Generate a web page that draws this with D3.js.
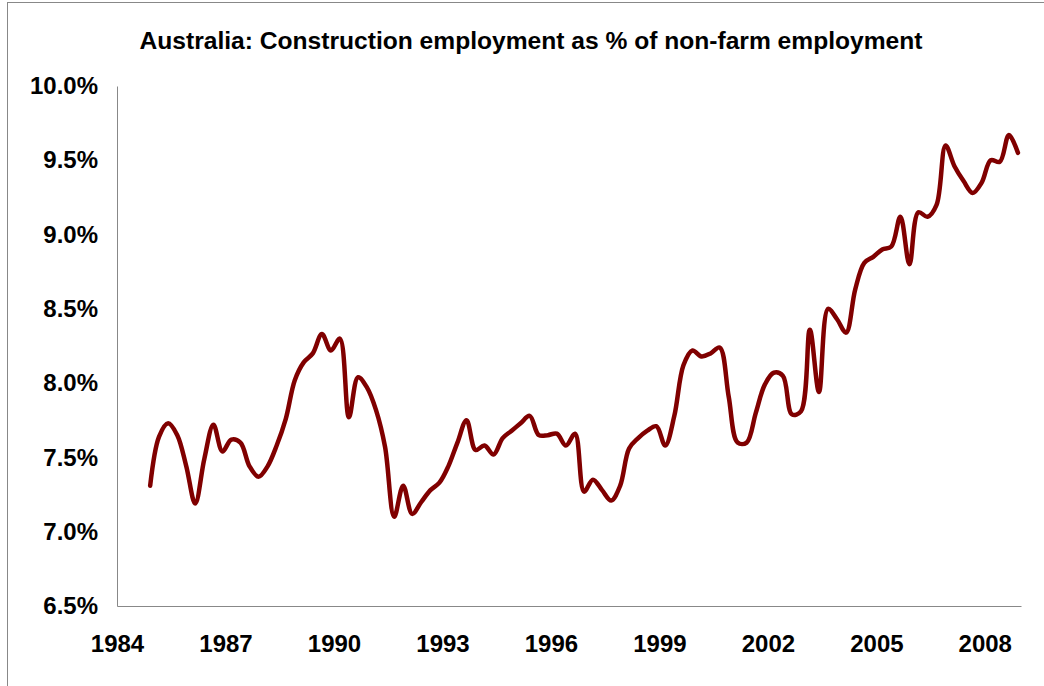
<!DOCTYPE html>
<html>
<head>
<meta charset="utf-8">
<title>Australia construction employment</title>
<style>
body { margin: 0; background: #fff; font-family: "Liberation Sans", Arial, sans-serif; }
</style>
<script src="https://d3js.org/d3.v7.min.js"></script>
</head>
<body>
<script>
var title = "Australia: Construction employment as % of non-farm employment";

// quarterly series, first observation Dec 1984
var startMonth = new Date(1984, 11, 1);
var values = [
  7.31, 7.64, 7.73, 7.65, 7.44, 7.19, 7.49, 7.72, 7.54, 7.62,
  7.60, 7.44, 7.37, 7.44, 7.58, 7.76, 8.02, 8.14, 8.20, 8.33,
  8.22, 8.30, 7.77, 8.04, 7.97, 7.82, 7.57, 7.10, 7.31, 7.12,
  7.20, 7.28, 7.33, 7.44, 7.60, 7.75, 7.55, 7.58, 7.52, 7.63,
  7.68, 7.73, 7.78, 7.65, 7.65, 7.66, 7.58, 7.66, 7.27, 7.35,
  7.28, 7.21, 7.31, 7.56, 7.63, 7.68, 7.71, 7.58, 7.78, 8.12,
  8.22, 8.18, 8.20, 8.24, 7.91, 7.60, 7.60, 7.80, 7.99, 8.07,
  8.05, 7.79, 7.81, 8.36, 7.94, 8.50, 8.43, 8.34, 8.63, 8.81,
  8.85, 8.90, 8.92, 9.12, 8.80, 9.15, 9.12, 9.20, 9.60, 9.46,
  9.36, 9.28, 9.35, 9.50, 9.49, 9.67, 9.55
];
var dates = values.map(function(v, i) { return d3.timeMonth.offset(startMonth, i * 3); });

var yTicks = [6.5, 7.0, 7.5, 8.0, 8.5, 9.0, 9.5, 10.0];
var xTickYears = [1984, 1987, 1990, 1993, 1996, 1999, 2002, 2005, 2008];

var W = 1044, H = 686;
var plotLeft = 117, plotRight = 1021, plotTop = 86, plotBottom = 606;

var svg = d3.select("body").append("svg")
    .attr("width", W)
    .attr("height", H);

// outer chart frame (runs off the right and bottom edges)
svg.append("rect")
    .attr("x", 7.5).attr("y", 2.5)
    .attr("width", 1100).attr("height", 800)
    .attr("fill", "#fff")
    .attr("stroke", "#888")
    .attr("stroke-width", 1);

var x = d3.scaleTime()
    .domain([new Date(1984, 0, 1), new Date(2009, 0, 1)])
    .range([plotLeft, plotRight]);
var y = d3.scaleLinear()
    .domain([6.5, 10])
    .range([plotBottom, plotTop]);

svg.append("text")
    .attr("x", 531)
    .attr("y", 40)
    .attr("dy", "0.35em")
    .attr("text-anchor", "middle")
    .attr("font-size", "24.6px")
    .attr("font-weight", "bold")
    .attr("fill", "#000")
    .text(title);

var yAxis = svg.append("g")
    .attr("transform", "translate(" + plotLeft + ",0)")
    .call(d3.axisLeft(y).tickValues(yTicks).tickSize(0).tickPadding(19)
        .tickFormat(function(d) { return d.toFixed(1) + "%"; }));

var xAxis = svg.append("g")
    .attr("transform", "translate(0," + plotBottom + ")")
    .call(d3.axisBottom(x)
        .tickValues(xTickYears.map(function(yr) { return new Date(yr, 0, 1); }))
        .tickSize(0).tickPadding(29)
        .tickFormat(d3.timeFormat("%Y")));

[yAxis, xAxis].forEach(function(a) {
  a.select(".domain").attr("stroke", "#888").attr("stroke-width", 1);
  a.selectAll("text")
    .attr("font-family", "'Liberation Sans', Arial, sans-serif")
    .attr("font-size", "24px")
    .attr("font-weight", "bold")
    .attr("fill", "#000");
});

var line = d3.line()
    .x(function(d, i) { return x(dates[i]); })
    .y(function(d) { return y(d); })
    .curve(d3.curveCatmullRom.alpha(0.5));

svg.append("path")
    .datum(values)
    .attr("fill", "none")
    .attr("stroke", "#800000")
    .attr("stroke-width", 4.5)
    .attr("stroke-linejoin", "round")
    .attr("stroke-linecap", "round")
    .attr("d", line);
</script>
</body>
</html>
